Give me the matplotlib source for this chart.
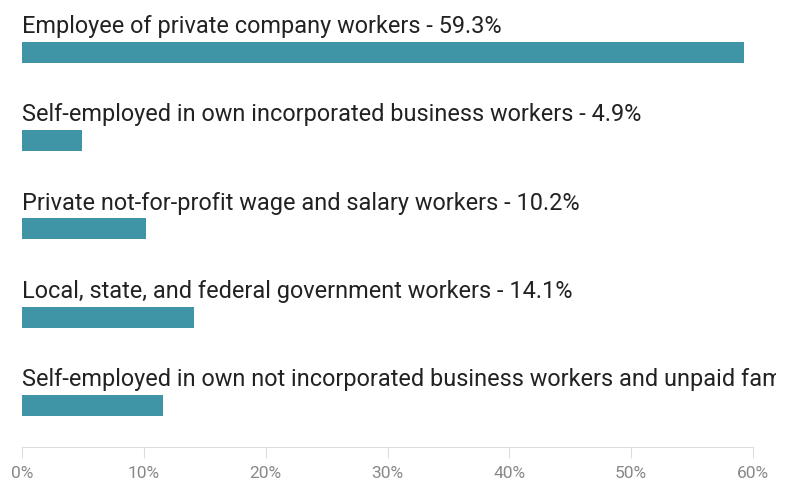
import numpy as np
import matplotlib.pyplot as plt
from matplotlib.transforms import Bbox, TransformedBbox

plt.rcParams['font.family'] = ['Roboto', 'DejaVu Sans']

categories = [
    "Employee of private company workers",
    "Self-employed in own incorporated business workers",
    "Private not-for-profit wage and salary workers",
    "Local, state, and federal government workers",
    "Self-employed in own not incorporated business workers and unpaid family workers",
]
values = [59.3, 4.9, 10.2, 14.1, 11.6]
tick_values = [0, 10, 20, 30, 40, 50, 60]
tick_labels = ["0%", "10%", "20%", "30%", "40%", "50%", "60%"]

bar_color = "#3f95a6"

fig = plt.figure(figsize=(7.85, 4.82), dpi=100)
ax = fig.add_axes([22 / 785, 35 / 482, 731 / 785, 447 / 482])

pos = np.arange(len(values))
ax.barh(pos, values, height=0.24, color=bar_color)

# labels run past the plot area, cut a little before the right edge
clip = TransformedBbox(Bbox([[0, 0], [776 / 785, 1]]), fig.transFigure)
for i, (name, v) in enumerate(zip(categories, values)):
    t = ax.text(0, i - 0.215, f"{name} - {v}%", fontsize=16.9, color="#222222",
                va="baseline", ha="left")
    t.set_clip_box(clip)
    t.set_clip_on(True)

ax.set_xlim(0, 60)
ax.set_ylim(4.47, -0.59)
ax.set_xticks(tick_values)
ax.set_xticklabels(tick_labels, color="#888888", fontsize=12.5)
ax.set_yticks([])
ax.tick_params(axis="x", length=8, color="#dddddd", pad=6)
for s in ["top", "right", "left"]:
    ax.spines[s].set_visible(False)
ax.spines["bottom"].set_color("#dddddd")

fig.savefig("out.png", dpi=100)
